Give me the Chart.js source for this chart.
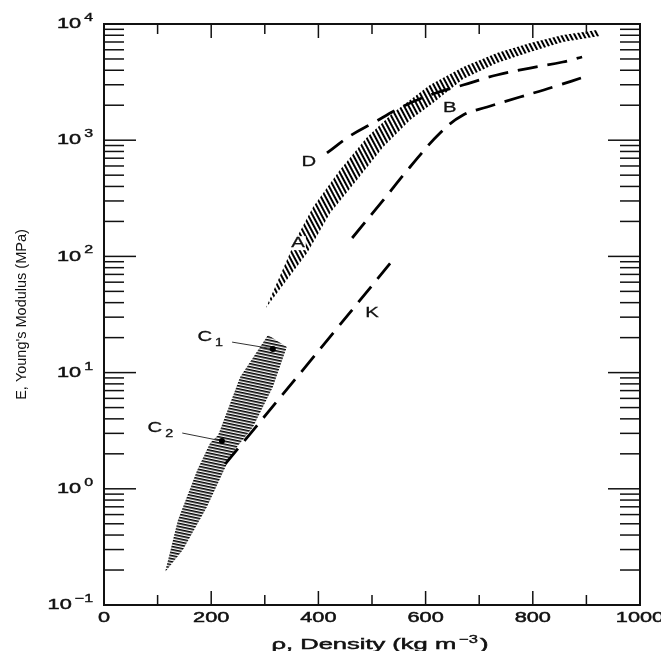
<!DOCTYPE html>
<html>
<head>
<meta charset="utf-8">
<script src="https://cdn.jsdelivr.net/npm/chart.js@4.4.1/dist/chart.umd.min.js"></script>
<style>
html,body{margin:0;padding:0;background:#fff;}
#c{display:block;}
</style>
</head>
<body>
<canvas id="c" width="661" height="651"></canvas>
<script>
// ---------------- data ----------------
const densityTicks = [0, 200, 400, 600, 800, 1000];
const densityMinorTicks = [100, 300, 500, 700, 900];
const modulusDecades = [-1, 0, 1, 2, 3, 4];
const modulusMinorMultipliers = [2, 3, 4, 5, 6, 7, 8, 9];

// Band A (hatched): upper/left edge and lower/right edge  [density, E]
const bandAUpper = [[302,36],[360,147],[390,266],[440,554],[491,1066],[539,1714],[608,2985],[670,4266],[733,5627],[795,6864],[856,8044],[920,8880]];
const bandALower = [[302,36],[379,107],[422,236],[472,454],[521,874],[571,1492],[614,2090],[670,3363],[733,4617],[795,5742],[856,7000],[925,7880]];
// Band C (hatched)
const bandCLeft  = [[114,0.192],[138,0.538],[174,1.45],[198,2.48],[213,2.90],[254,9.16],[306,21.1]];
const bandCRight = [[114,0.192],[147,0.297],[192,0.697],[230,1.67],[248,2.29],[278,3.40],[315,7.52],[341,16.6]];
// Dashed curves
const curveD = [[416,776],[459,1087],[502,1406],[552,1892],[608,2450],[670,2985],[733,3640],[795,4180],[856,4710],[892,5200]];
const curveB = [[463,144],[521,305],[571,588],[627,1153],[670,1648],[715,1931],[776,2353],[838,2870],[907,3640]];
const curveK = [[226,1.63],[383,12.3],[539,93.1]];
// Marked points and their leader lines
const pointC1 = [315, 16.0];
const pointC2 = [220, 2.58];
const leaderC1 = [[239,18.3],[315,16.0]];
const leaderC2 = [[146,3.02],[220,2.58]];
// Curve labels
const labelText = ['A', 'B', 'D', 'K', 'C', 'C'];
const labelSub  = ['', '', '', '', '1', '2'];
const labelPos  = [[362,130],[645,1892],[382,649],[500,32.6],[188,20.2],[95,3.34]];

const xTitleMain = 'ρ, Density (kg m';
const xTitleSup = '−3';
const xTitleEnd = ')';
const yTitle = "E, Young's Modulus (MPa)";

// ---------------- helpers ----------------
const toXY = arr => arr.map(p => ({x: p[0], y: p[1]}));
function hatch(angle, spacing, lw) {
  const c = document.createElement('canvas');
  c.width = 8; c.height = spacing;
  const g = c.getContext('2d');
  g.fillStyle = '#000';
  g.fillRect(0, 0, 8, lw);
  const p = g.createPattern(c, 'repeat');
  p.setTransform(new DOMMatrix().rotateSelf(angle));
  return p;
}
const FONT = '"Liberation Sans", Arial, Helvetica, sans-serif';
function wideText(ctx, txt, x, y, size, sx, align, baseline, bold) {
  ctx.save();
  ctx.font = size + 'px ' + FONT;
  ctx.textBaseline = baseline || 'middle';
  ctx.textAlign = 'left';
  const w = ctx.measureText(txt).width * sx;
  const x0 = align === 'center' ? x - w / 2 : (align === 'right' ? x - w : x);
  ctx.translate(x0, y);
  ctx.scale(sx, 1);
  ctx.fillText(txt, 0, 0);
  if (bold) { ctx.lineWidth = bold; ctx.strokeText(txt, 0, 0); }
  ctx.restore();
  return w;
}
function textW(ctx, txt, size, sx) {
  ctx.save(); ctx.font = size + 'px ' + FONT;
  const w = ctx.measureText(txt).width * sx; ctx.restore(); return w;
}

const polyA = bandAUpper.concat(bandALower.slice(1).reverse());
const polyC = bandCLeft.concat(bandCRight.slice(1).reverse());

// ---------------- frame, inward ticks and texts ----------------
const decorPlugin = {
  id: 'decor',
  afterDraw(chart) {
    const ctx = chart.ctx, a = chart.chartArea;
    const xs = chart.scales.x, ys = chart.scales.y;
    ctx.save();
    ctx.strokeStyle = '#111';
    ctx.fillStyle = '#111';
    const seg = (x1, y1, x2, y2) => { ctx.beginPath(); ctx.moveTo(x1, y1); ctx.lineTo(x2, y2); ctx.stroke(); };
    // inward ticks
    ctx.lineWidth = 1.5;
    densityTicks.forEach(v => { const px = xs.getPixelForValue(v); seg(px, a.bottom, px, a.bottom - 14); seg(px, a.top, px, a.top + 14); });
    densityMinorTicks.forEach(v => { const px = xs.getPixelForValue(v); seg(px, a.bottom, px, a.bottom - 10); seg(px, a.top, px, a.top + 10); });
    modulusDecades.forEach(d => {
      const base = Math.pow(10, d);
      const py = ys.getPixelForValue(base);
      seg(a.left, py, a.left + 32, py); seg(a.right, py, a.right - 32, py);
      if (d < 4) modulusMinorMultipliers.forEach(m => {
        const q = ys.getPixelForValue(m * base);
        seg(a.left, q, a.left + 20, q); seg(a.right, q, a.right - 20, q);
      });
    });
    // frame
    ctx.lineWidth = 2;
    ctx.strokeRect(a.left, a.top, a.right - a.left, a.bottom - a.top);

    ctx.strokeStyle = '#111';
    // x tick labels
    densityTicks.forEach(v => wideText(ctx, String(v), xs.getPixelForValue(v), a.bottom + 13, 15, 1.45, 'center', 'middle', 0.5));
    // y tick labels 10^n
    modulusDecades.forEach(d => {
      const py = ys.getPixelForValue(Math.pow(10, d));
      const exp = d < 0 ? '−' + Math.abs(d) : String(d);
      const xEnd = a.left - 11;
      const ew = textW(ctx, exp, 11, 1.45);
      wideText(ctx, exp, xEnd - ew, py - 6, 11, 1.45, 'left', 'middle', 0.4);
      wideText(ctx, '10', xEnd - ew - 3, py, 15, 1.45, 'right', 'middle', 0.5);
    });
    // x title
    const w1 = textW(ctx, xTitleMain, 15, 1.7), w2 = textW(ctx, xTitleSup, 11, 1.5), w3 = textW(ctx, xTitleEnd, 15, 1.7);
    const tot = w1 + 3 + w2 + 2 + w3;
    let tx = (a.left + a.right) / 2 + 8 - tot / 2;
    const ty = 649;
    wideText(ctx, xTitleMain, tx, ty, 15, 1.7, 'left', 'alphabetic', 0.5); tx += w1 + 3;
    wideText(ctx, xTitleSup, tx, ty - 6, 11, 1.5, 'left', 'alphabetic', 0.4); tx += w2 + 2;
    wideText(ctx, xTitleEnd, tx, ty, 15, 1.7, 'left', 'alphabetic', 0.5);

    // curve labels (white knock-out behind, like the printed figure)
    labelText.forEach((t, i) => {
      const px = xs.getPixelForValue(labelPos[i][0]);
      const py = ys.getPixelForValue(labelPos[i][1]);
      const w = textW(ctx, t, 15, 1.35);
      ctx.save(); ctx.fillStyle = '#fff'; ctx.fillRect(px - w / 2 - 1, py - 7, w + 2, 14); ctx.restore();
      wideText(ctx, t, px, py, 15, 1.35, 'center', 'middle', 0.3);
      if (labelSub[i]) wideText(ctx, labelSub[i], px + w / 2 + 3, py + 6, 11, 1.3, 'left', 'middle', 0.3);
    });
    ctx.restore();
  }
};

const chart = new Chart(document.getElementById('c'), {
  type: 'line',
  data: {
    datasets: [
      { label: 'A', data: toXY(polyA), fill: 'shape', backgroundColor: hatch(62, 4, 2), borderWidth: 0, pointRadius: 0, tension: 0, order: 3 },
      { label: 'C', data: toXY(polyC), fill: 'shape', backgroundColor: hatch(12, 3, 1.6), borderWidth: 0, pointRadius: 0, tension: 0, order: 3 },
      { label: 'D', data: toXY(curveD), borderColor: '#000', borderWidth: 2.8, borderDash: [20, 10], pointRadius: 0, tension: 0.4, fill: false, order: 1 },
      { label: 'B', data: toXY(curveB), borderColor: '#000', borderWidth: 2.8, borderDash: [20, 10], pointRadius: 0, tension: 0.4, fill: false, order: 1 },
      { label: 'K', data: toXY(curveK), borderColor: '#000', borderWidth: 2.8, borderDash: [20, 10], pointRadius: 0, tension: 0.4, fill: false, order: 1 },
      { label: 'C1 leader', data: toXY(leaderC1), borderColor: '#333', borderWidth: 1, pointRadius: 0, fill: false, order: 1 },
      { label: 'C2 leader', data: toXY(leaderC2), borderColor: '#333', borderWidth: 1, pointRadius: 0, fill: false, order: 1 },
      { label: 'C1', data: toXY([pointC1]), showLine: false, pointRadius: 3, pointBackgroundColor: '#000', pointBorderWidth: 0, order: 0 },
      { label: 'C2', data: toXY([pointC2]), showLine: false, pointRadius: 3, pointBackgroundColor: '#000', pointBorderWidth: 0, order: 0 }
    ]
  },
  options: {
    responsive: false,
    devicePixelRatio: 1,
    animation: false,
    layout: { padding: { left: 0, right: 21, top: 24, bottom: 0 } },
    plugins: { legend: { display: false }, tooltip: { enabled: false } },
    scales: {
      x: {
        type: 'linear', min: 0, max: 1000,
        ticks: { display: false, stepSize: 100 },
        grid: { display: false }, border: { display: false },
        afterFit: s => { s.height = 46; }
      },
      y: {
        type: 'logarithmic', min: 0.1, max: 10000,
        ticks: { display: false },
        grid: { display: false }, border: { display: false },
        title: { display: true, text: yTitle, color: '#111', font: { family: FONT, size: 14.5, lineHeight: 1 }, padding: { top: 15, bottom: 0 } },
        afterFit: s => { s.width = 104; }
      }
    }
  },
  plugins: [decorPlugin]
});
</script>
</body>
</html>
